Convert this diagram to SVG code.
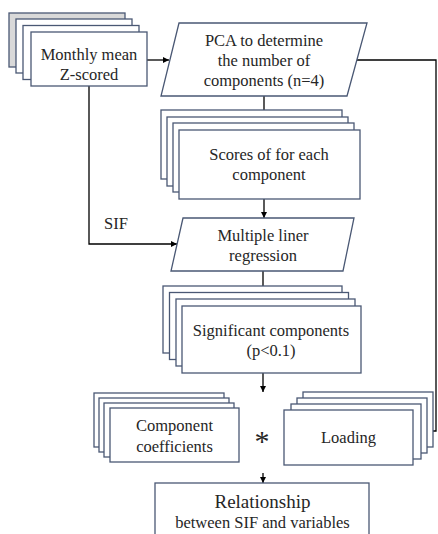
<svg xmlns="http://www.w3.org/2000/svg" width="438" height="534" viewBox="0 0 438 534">
<defs>
<marker id="ah" markerUnits="userSpaceOnUse" markerWidth="8" markerHeight="8" refX="6" refY="3" orient="auto">
<path d="M0,0 L6,3 L0,6 Z" fill="#000"/>
</marker>
<style>
.b{fill:#fff;stroke:#4a5874;stroke-width:1.3}
.g{fill:#d9d9d9;stroke:#4a5874;stroke-width:1.3}
text{font-family:'Liberation Serif','Times New Roman',serif;font-size:16.5px;fill:#262626;text-anchor:middle}
.c{fill:none;stroke:#000;stroke-width:1.3;marker-end:url(#ah)}
</style>
</defs>
<rect width="438" height="534" fill="#fff"/>
<g id="connectors">
<path class="c" d="M147,60 H169"/>
<path class="c" d="M264,96 V124"/>
<path class="c" d="M264,199 V218"/>
<path class="c" d="M89,86 V244 H177"/>
<path class="c" d="M263,271 V292"/>
<path class="c" d="M263,373 V392"/>
<path class="c" d="M263,473 V483"/>
<path class="c" d="M357,60 H436 V431 H423"/>
</g>
<g id="monthly">
<rect class="g" x="9" y="13" width="116" height="54"/>
<rect class="b" x="16" y="19" width="116" height="54"/>
<rect class="b" x="23" y="25.5" width="116" height="54"/>
<rect class="b" x="31" y="32" width="116" height="54"/>
<text x="89" y="60">Monthly mean</text>
<text x="89" y="80">Z-scored</text>
</g>
<g id="pca">
<polygon class="b" points="179,23 367,23 347,96 161,96"/>
<text x="264" y="46">PCA to determine</text>
<text x="264" y="66">the number of</text>
<text x="264" y="86">components (n=4)</text>
</g>
<g id="scores">
<rect class="b" x="161" y="110" width="181" height="69"/>
<rect class="b" x="167" y="117" width="181" height="69"/>
<rect class="b" x="173" y="123" width="181" height="69"/>
<rect class="b" x="179" y="130" width="181" height="69"/>
<text x="269" y="160">Scores of for each</text>
<text x="269" y="180">component</text>
</g>
<g id="regression">
<polygon class="b" points="183,218 354,218 343,271 171,271"/>
<text x="263" y="241">Multiple liner</text>
<text x="263" y="261">regression</text>
</g>
<g id="sif-label">
<text x="116" y="229">SIF</text>
</g>
<g id="significant">
<rect class="b" x="163" y="286" width="179" height="67"/>
<rect class="b" x="169.5" y="292.5" width="179" height="67"/>
<rect class="b" x="176" y="299" width="179" height="67"/>
<rect class="b" x="182" y="306" width="179" height="67"/>
<text x="271" y="336">Significant components</text>
<text x="271" y="356">(p&lt;0.1)</text>
</g>
<g id="coefficients">
<rect class="b" x="94" y="393" width="130" height="54"/>
<rect class="b" x="99" y="398" width="130" height="54"/>
<rect class="b" x="104" y="403" width="130" height="54"/>
<rect class="b" x="110" y="408" width="129" height="54"/>
<text x="174.5" y="431">Component</text>
<text x="174.5" y="452">coefficients</text>
</g>
<g id="times">
<text x="262" y="451" style="font-size:30px">*</text>
</g>
<g id="loading">
<rect class="b" x="303" y="392" width="130" height="55"/>
<rect class="b" x="297" y="398" width="130" height="55"/>
<rect class="b" x="291" y="404" width="130" height="55"/>
<rect class="b" x="284" y="410" width="129" height="55"/>
<text x="348.5" y="443">Loading</text>
</g>
<g id="relationship">
<rect class="b" x="155" y="483" width="214" height="60"/>
<text x="262.5" y="508" style="font-size:19px">Relationship</text>
<text x="262.5" y="528">between SIF and variables</text>
</g>
</svg>
